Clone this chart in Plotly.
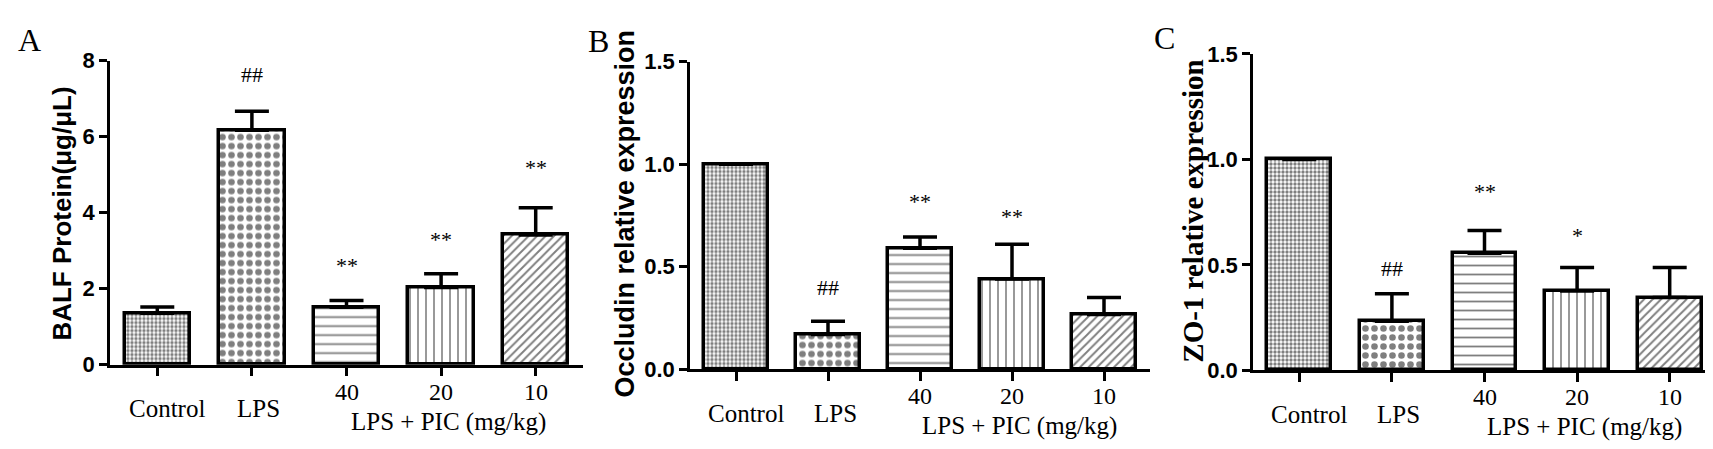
import plotly.graph_objects as go
from plotly.subplots import make_subplots

# groups on the x axis
groups = ["Control", "LPS", "40", "20", "10"]
doses = ["40", "20", "10"]
x_pos = [0, 1, 2, 3, 4]

# A: BALF protein (ug/uL)
balf_mean = [1.35, 6.17, 1.51, 2.03, 3.41]
balf_err = [0.17, 0.50, 0.18, 0.36, 0.72]
balf_sig = ["", "##", "**", "**", "**"]
balf_sig_y = [None, 7.63, 2.60, 3.30, 5.20]

# B: Occludin relative expression
occ_mean = [1.0, 0.17, 0.59, 0.44, 0.267]
occ_err = [0.0, 0.065, 0.055, 0.17, 0.083]
occ_sig = ["", "##", "**", "**", ""]
occ_sig_y = [None, 0.40, 0.82, 0.745, None]

# C: ZO-1 relative expression
zo1_mean = [1.0, 0.233, 0.555, 0.376, 0.345]
zo1_err = [0.0, 0.13, 0.108, 0.112, 0.143]
zo1_sig = ["", "##", "**", "*", ""]
zo1_sig_y = [None, 0.484, 0.85, 0.64, None]

W, H = 1713, 449
def px(x):
    return x / W
def py(y):
    return 1 - y / H

pat_shape = [".", ".", "-", "|", "/"]
pat_size = [4, 9, 9, 8, 6]
pat_solid = [0.55, 0.42, 0.2, 0.2, 0.32]

sans = "Liberation Sans, Arial"
serif = "Liberation Serif, Times New Roman"

panels = [
    dict(letter="A", mean=balf_mean, err=balf_err, sig=balf_sig, sig_y=balf_sig_y,
         title="BALF Protein(μg/μL)", tfont=sans, tsize=26,
         yrange=[0, 8], dtick=2, fmt="d",
         xdom=[px(102), px(575)], ydom=[py(365), py(43)],
         tpos=(54, 205), lpos=(21, 21)),
    dict(letter="B", mean=occ_mean, err=occ_err, sig=occ_sig, sig_y=occ_sig_y,
         title="Occludin relative expression", tfont=sans, tsize=27,
         yrange=[0, 1.5], dtick=0.5, fmt=".1f",
         xdom=[px(682), px(1142)], ydom=[py(370), py(44)],
         tpos=(617, 205), lpos=(590, 22)),
    dict(letter="C", mean=zo1_mean, err=zo1_err, sig=zo1_sig, sig_y=zo1_sig_y,
         title="ZO-1 relative expression", tfont=serif, tsize=29,
         yrange=[0, 1.5], dtick=0.5, fmt=".1f",
         xdom=[px(1245), px(1708)], ydom=[py(371), py(36)],
         tpos=(1185, 203), lpos=(1156, 19)),
]

fig = make_subplots(rows=1, cols=3)
annotations = []
shapes = []

for i, p in enumerate(panels):
    col = i + 1
    xa = "x" if i == 0 else f"x{col}"
    ya = "y" if i == 0 else f"y{col}"
    fig.add_trace(go.Bar(
        x=x_pos, y=p["mean"], width=0.69,
        marker=dict(color="white",
                    line=dict(color="black", width=3.5),
                    pattern=dict(shape=pat_shape, size=pat_size, solidity=pat_solid,
                                 fgcolor="black", bgcolor="white")),
        error_y=dict(type="data", symmetric=False, array=p["err"],
                     arrayminus=[0] * 5, color="black", thickness=3.5, width=17),
        showlegend=False,
    ), row=1, col=col)

    fig.update_xaxes(domain=p["xdom"], range=[-0.5, 4.5], tickvals=x_pos,
                     showticklabels=False, showline=True, linecolor="black",
                     linewidth=2.5, ticks="outside", ticklen=9, tickwidth=2.5,
                     tickcolor="black", showgrid=False, zeroline=False,
                     row=1, col=col)
    fig.update_yaxes(domain=p["ydom"], range=p["yrange"], dtick=p["dtick"],
                     tickformat=p["fmt"], showline=True, linecolor="black",
                     linewidth=2.5, ticks="outside", ticklen=8, tickwidth=2.5,
                     tickcolor="black", showgrid=False, zeroline=False,
                     tickfont=dict(family=sans, size=22, color="black", weight="bold"),
                     row=1, col=col)

    # significance marks
    for gx, s, sy in zip(x_pos, p["sig"], p["sig_y"]):
        if s:
            annotations.append(dict(x=gx, y=sy, xref=xa, yref=ya, text=s,
                                    showarrow=False, yanchor="middle",
                                    font=dict(family=serif, size=22, color="black")))

    # category labels below the axis
    for gx, g, dx in zip(x_pos[:2], groups[:2], [10, 7]):
        annotations.append(dict(x=gx, y=0, xref=xa, yref=ya, text=g, showarrow=False,
                                xshift=dx, yshift=-44, yanchor="middle",
                                font=dict(family=serif, size=25, color="black")))
    for gx, d in zip(x_pos[2:], doses):
        annotations.append(dict(x=gx, y=0, xref=xa, yref=ya, text=d, showarrow=False,
                                yshift=-27, yanchor="middle",
                                font=dict(family=serif, size=24, color="black")))
    annotations.append(dict(x=3, y=0, xref=xa, yref=ya, text="LPS + PIC (mg/kg)",
                            showarrow=False, xshift=7, yshift=-57, yanchor="middle",
                            font=dict(family=serif, size=25, color="black")))
    shapes.append(dict(type="line", xref=xa, yref=ya, x0=1.83, x1=4.23,
                       ysizemode="pixel", yanchor=0, y0=-40, y1=-40,
                       line=dict(color="#222222", width=1.5)))

    # y axis title and panel letter
    annotations.append(dict(x=px(p["tpos"][0]), y=py(p["tpos"][1]), xref="paper",
                            yref="paper", text=p["title"], textangle=-90,
                            showarrow=False, xanchor="center", yanchor="middle",
                            font=dict(family=p["tfont"], size=p["tsize"],
                                      color="black", weight="bold")))
    annotations.append(dict(x=px(p["lpos"][0]), y=py(p["lpos"][1]), xref="paper",
                            yref="paper", text=p["letter"], showarrow=False,
                            xanchor="center", yanchor="middle",
                            font=dict(family=serif, size=32, color="black")))

fig.update_layout(width=W, height=H, margin=dict(l=0, r=0, t=0, b=0),
                  paper_bgcolor="white", plot_bgcolor="white",
                  annotations=annotations, shapes=shapes, bargap=0)

fig.write_html("out.html")
